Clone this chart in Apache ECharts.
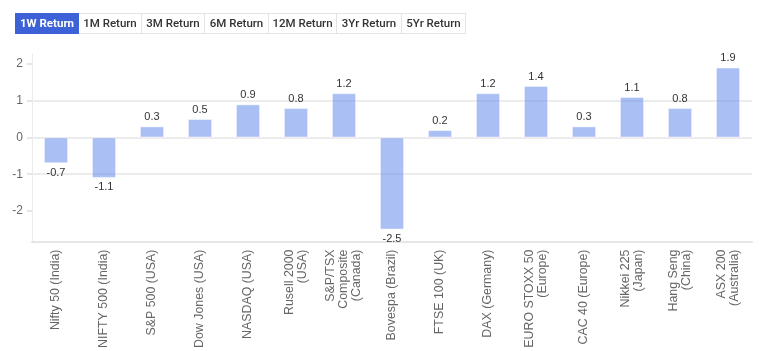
<!DOCTYPE html>
<html>
<head>
<meta charset="utf-8">
<script src="https://cdn.jsdelivr.net/npm/echarts@6/dist/echarts.min.js"></script>
<style>
  html, body { margin: 0; padding: 0; background: #fff; }
  #wrap { position: relative; width: 775px; height: 351px; }
  #chart { position: absolute; left: 0; top: 0; width: 775px; height: 351px; }
  #tabs { position: absolute; left: 15px; top: 13px; display: flex; z-index: 2; }
  #tabs div {
    height: 19px; line-height: 19px; text-align: center;
    font-family: Roboto, "Liberation Sans", sans-serif; font-size: 11.5px; font-weight: 500;
    color: #333; border: 1px solid #e3e3e3; border-left: none; box-sizing: content-box;
  }
  #tabs div:first-child { border-left: 1px solid #3d62d8; }
  #tabs div.active { background: #3d62d8; color: #fff; font-weight: 700; border-color: #3d62d8; }
</style>
</head>
<body>
<div id="wrap">
  <div id="chart"></div>
  <div id="tabs"></div>
</div>
<script>
// tab labels
var tabs = ['1W Return', '1M Return', '3M Return', '6M Return', '12M Return', '3Yr Return', '5Yr Return']
var tabWidths = [62, 62, 62, 63, 67, 64, 63]

// categories and 1W returns (%)
var indices = [
  'Nifty 50 (India)', 'NIFTY 500 (India)', 'S&P 500 (USA)', 'Dow Jones (USA)',
  'NASDAQ (USA)', 'Rusell 2000\n(USA)', 'S&P/TSX\nComposite\n(Canada)', 'Bovespa (Brazil)',
  'FTSE 100 (UK)', 'DAX (Germany)', 'EURO STOXX 50\n(Europe)', 'CAC 40 (Europe)',
  'Nikkei 225\n(Japan)', 'Hang Seng\n(China)', 'ASX 200\n(Australia)'
]
var returns1W = [-0.7, -1.1, 0.3, 0.5, 0.9, 0.8, 1.2, -2.5, 0.2, 1.2, 1.4, 0.3, 1.1, 0.8, 1.9]
var yTicks = [-2, -1, 0, 1, 2]

var tabBox = document.getElementById('tabs')
tabs.forEach(function (t, i) {
  var d = document.createElement('div')
  d.textContent = t
  d.style.width = tabWidths[i] + 'px'
  if (i === 0) d.className = 'active'
  tabBox.appendChild(d)
})

var myChart = echarts.init(document.getElementById('chart'))
var option = {
  animation: false,
  textStyle: { fontFamily: '"Liberation Sans", Arial, sans-serif' },
  grid: { left: 32, right: 23, top: 54, bottom: 108, containLabel: false },
  xAxis: {
    type: 'category',
    data: indices,
    axisLine: { onZero: false, lineStyle: { color: '#e6e6e6', width: 2 } },
    axisTick: { alignWithLabel: true, length: 5, lineStyle: { color: '#e6e6e6' } },
    axisLabel: { rotate: 90, fontSize: 12.4, color: '#666', margin: 8, lineHeight: 13, interval: 0 }
  },
  yAxis: {
    type: 'value',
    min: -2.83,
    max: 2.27,
    splitNumber: 5,
    axisLine: { show: true, lineStyle: { color: '#ececec', width: 1 } },
    axisTick: { show: true, length: 5, customValues: yTicks, lineStyle: { color: '#e6e6e6', width: 2 } },
    axisLabel: {
      fontSize: 12, color: '#666', margin: 9,
      showMinLabel: false, showMaxLabel: false,
      formatter: function (v) { return Math.abs(v - Math.round(v)) < 1e-6 ? String(Math.round(v)) : '' }
    },
    splitLine: { showMinLine: false, showMaxLine: false, lineStyle: { color: '#ececec', width: 2 } }
  },
  series: [{
    type: 'bar',
    data: returns1W.map(function (v) {
      return { value: v, label: { position: v < 0 ? 'bottom' : 'top' } }
    }),
    barWidth: '50%',
    itemStyle: { color: 'rgba(86,130,235,0.5)', borderColor: 'rgba(255,255,255,0.35)', borderWidth: 1 },
    label: { show: true, fontSize: 11, color: '#333', distance: 4 }
  }]
}
myChart.setOption(option)
</script>
</body>
</html>
